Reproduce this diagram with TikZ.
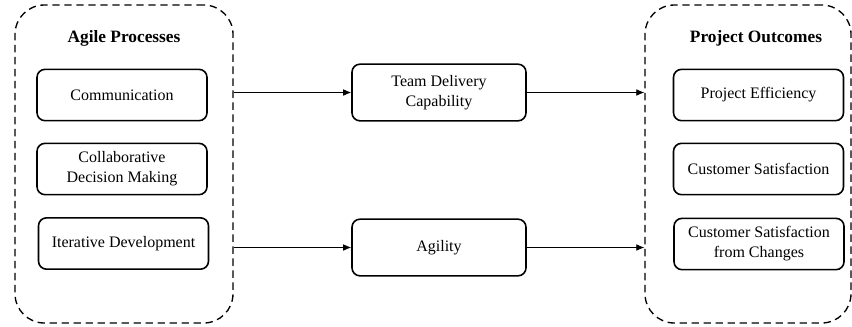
\documentclass[tikz,border=0pt]{standalone}
\usepackage{fontspec}
\setmainfont{Liberation Serif}
\usetikzlibrary{arrows.meta}
\begin{document}
\begin{tikzpicture}[x=0.75pt,y=-0.75pt,
  container/.style={draw, line width=1pt, dash pattern=on 5.5pt off 3.5pt, rounded corners=22pt},
  itembox/.style={draw, line width=1.2pt, rounded corners=6pt, minimum width=127.5pt, minimum height=38.5pt, align=center, font=\fontsize{12pt}{15pt}\selectfont, inner sep=2pt},
  midbox/.style={itembox, minimum width=130.5pt, minimum height=42.5pt},
  title/.style={font=\bfseries\fontsize{13pt}{15pt}\selectfont},
  conn/.style={line width=0.6pt, -{Latex[length=6pt,width=5pt]}}]
\useasboundingbox (0,0) rectangle (852,326);
% containers
\node[container, minimum width=163.5pt, minimum height=238.5pt] (L) at (124,164) {};
\node[container, minimum width=154.5pt, minimum height=238.5pt] (R) at (748,164) {};
\node[title] (Lt) at (124,38.5) {Agile Processes};
\node[title] (Rt) at (756,38.5) {Project Outcomes};
% left items
\node[itembox] (c1) at (122,95) {Communication};
\node[itembox] (c2) at (122,169) {Collaborative\\Decision Making};
\node[itembox] (c3) at (123.5,243.5) {Iterative Development};
% right items
\node[itembox] (o1) at (758.5,95) {Project Efficiency};
\node[itembox] (o2) at (758.5,169) {Customer Satisfaction};
\node[itembox] (o3) at (759,244) {Customer Satisfaction\\from Changes};
% middle
\node[midbox] (m1) at (439,92.5) {Team Delivery\\Capability};
\node[midbox] (m2) at (439,247.5) {Agility};
% connectors
\draw[conn] (L.east |- m1.west) -- (m1.west);
\draw[conn] (m1.east) -- (R.west |- m1.east);
\draw[conn] (L.east |- m2.west) -- (m2.west);
\draw[conn] (m2.east) -- (R.west |- m2.east);
\end{tikzpicture}
\end{document}
